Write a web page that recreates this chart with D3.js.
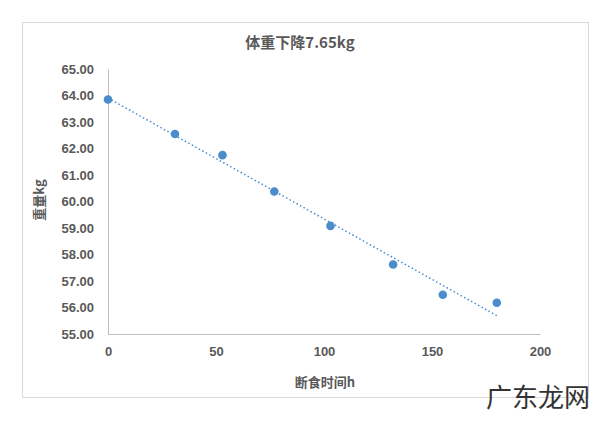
<!DOCTYPE html><html><head><meta charset="utf-8"><script src="https://cdn.jsdelivr.net/npm/d3@7"></script>
<style>body{margin:0;background:#fff}text{font-family:Calibri,"Liberation Sans","Noto Sans CJK SC",sans-serif}</style></head><body>
<svg id="c" width="610" height="423"></svg>
<script>
const hours=[0,31,53,77,103,132,155,180];
const weights=[63.85,62.55,61.75,60.38,59.08,57.62,56.48,56.18];
const xTicks=[0,50,100,150,200];
const yTicks=[55,56,57,58,59,60,61,62,63,64,65];
const svg=d3.select("#c");
svg.append("rect").attr("x",22.5).attr("y",22.5).attr("width",566).attr("height",375).attr("fill","#fff").attr("stroke","#d9d9d9");
const x=d3.scaleLinear().domain([0,200]).range([108,540]);
const y=d3.scaleLinear().domain([55,65]).range([334,69]);
const f="'Noto Sans CJK SC',sans-serif";
svg.append("text").attr("x",300).attr("y",48).attr("text-anchor","middle").attr("font-size",15).attr("font-weight","bold").attr("fill","#595959").style("font-family",f).text("体重下降7.65kg");
const ya=svg.append("g").attr("transform","translate(108,0)").call(d3.axisLeft(y).tickValues(yTicks).tickFormat(d3.format(".2f")).tickSize(0).tickPadding(14));
const xa=svg.append("g").attr("transform","translate(0,334)").call(d3.axisBottom(x).tickValues(xTicks).tickSize(0).tickPadding(13));
[ya,xa].forEach(a=>{a.selectAll("path").attr("stroke","#bfbfbf");a.selectAll("text").attr("font-size",13).attr("font-weight","bold").attr("fill","#595959").style("font-family","'Liberation Sans',sans-serif");});
ya.select("path").attr("stroke","#bfbfbf");
svg.append("text").attr("transform","translate(44,200) rotate(-90)").attr("text-anchor","middle").attr("font-size",13).attr("font-weight","bold").attr("fill","#595959").style("font-family",f).text("重量kg");
svg.append("text").attr("x",325).attr("y",387).attr("text-anchor","middle").attr("font-size",13).attr("font-weight","bold").attr("fill","#595959").style("font-family",f).text("断食时间h");
// linear trendline
const n=hours.length,mx=d3.mean(hours),my=d3.mean(weights);
const b=d3.sum(hours,(h,i)=>(h-mx)*(weights[i]-my))/d3.sum(hours,h=>(h-mx)**2),a0=my-b*mx;
svg.append("line").attr("x1",x(0)).attr("y1",y(a0)).attr("x2",x(180)).attr("y2",y(a0+b*180)).attr("stroke","#4a8ccc").attr("stroke-width",1.5).attr("stroke-dasharray","1.5,2.5");
svg.selectAll("circle").data(hours).join("circle").attr("cx",d=>x(d)).attr("cy",(d,i)=>y(weights[i])).attr("r",4.3).attr("fill","#4a8ccc");
svg.append("text").attr("x",590).attr("y",407).attr("text-anchor","end").attr("font-size",26).attr("fill","#333").style("font-family",f).text("广东龙网");
</script></body></html>
